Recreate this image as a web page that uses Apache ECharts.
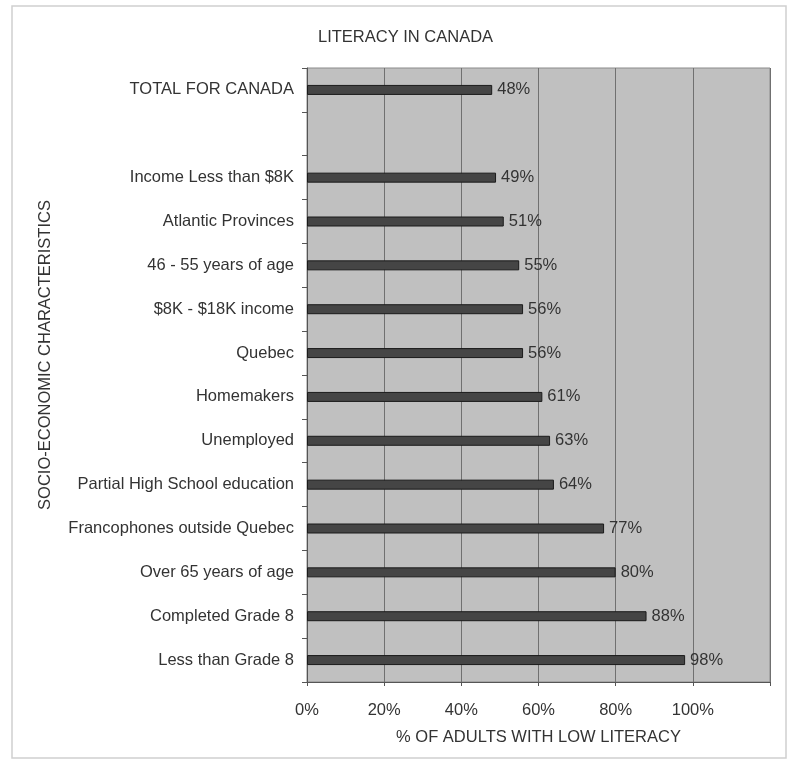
<!DOCTYPE html>
<html lang="en">
<head>
    <meta charset="UTF-8">
    <title>Literacy in Canada</title>
    <style>
        *{
            padding:0;
            margin:0;
        }
        html, body{
            height:100%;
            width:100%;
            background:#fff;
        }
        #main{
            width:794px;
            height:776px;
        }
    </style>
    <script src="https://cdn.jsdelivr.net/npm/echarts@6/dist/echarts.min.js"></script>
</head>
<body>
<div id="main"></div>
<script>
    // rows top to bottom, the empty one is the gap under the total
    var categories = [
        'TOTAL FOR CANADA',
        '',
        'Income Less than $8K',
        'Atlantic Provinces',
        '46 - 55 years of age',
        '$8K - $18K income',
        'Quebec',
        'Homemakers',
        'Unemployed',
        'Partial High School education',
        'Francophones outside Quebec',
        'Over 65 years of age',
        'Completed Grade 8',
        'Less than Grade 8'
    ];
    var lowLiteracy = [48, null, 49, 51, 55, 56, 56, 61, 63, 64, 77, 80, 88, 98];
    var xTicks = [0, 20, 40, 60, 80, 100, 120];

    // the scan is stretched sideways, so text runs a bit large
    var font = 'Liberation Sans, Arial, sans-serif';
    var fs = 16.5;
    var ink = '#333';
    var myChart = echarts.init(document.getElementById('main'));

    var option = {
        backgroundColor: '#fff',
        animation: false,
        textStyle: { fontFamily: font },
        graphic: [{
            type: 'rect',
            shape: { x: 12, y: 6, width: 774, height: 752 },
            style: { fill: 'none', stroke: '#d0d0d0', lineWidth: 1.5 },
            silent: true
        }],
        title: {
            text: 'LITERACY IN CANADA',
            left: 313,
            top: 24,
            textStyle: { color: ink, fontSize: fs, fontWeight: 'normal', fontFamily: font }
        },
        grid: {
            left: 307,
            right: 24,
            top: 68,
            bottom: 94,
            show: true,
            backgroundColor: '#c0c0c0',
            borderColor: '#8a8a8a',
            borderWidth: 1
        },
        xAxis: {
            type: 'value',
            min: xTicks[0],
            max: xTicks[xTicks.length - 1],
            interval: 20,
            name: '% OF ADULTS WITH LOW LITERACY',
            nameLocation: 'middle',
            nameGap: 47,
            nameTextStyle: { color: ink, fontSize: fs, fontFamily: font },
            axisLine: { show: true, lineStyle: { color: '#555' } },
            axisTick: { show: true, length: 4, lineStyle: { color: '#555' } },
            axisLabel: {
                color: ink,
                fontSize: fs,
                margin: 20,
                formatter: function (v) { return v > 100 ? '' : v + '%'; }
            },
            splitLine: { show: true, lineStyle: { color: '#707070', width: 1 } }
        },
        yAxis: {
            type: 'category',
            inverse: true,
            data: categories,
            name: 'SOCIO-ECONOMIC CHARACTERISTICS',
            nameLocation: 'middle',
            nameRotate: 90,
            nameGap: 253,
            nameTextStyle: { color: ink, fontSize: fs, fontFamily: font, padding: [0, 0, 0, 40] },
            axisLine: { show: true, lineStyle: { color: '#555' } },
            axisTick: { show: true, length: 5, lineStyle: { color: '#555' } },
            axisLabel: { color: ink, fontSize: fs, margin: 13 },
            splitLine: { show: false }
        },
        series: [{
            name: 'Low literacy',
            type: 'bar',
            data: lowLiteracy,
            barWidth: 10,
            itemStyle: {
                color: '#454545',
                borderColor: '#1a1a1a',
                borderWidth: 1
            },
            label: {
                show: true,
                position: 'right',
                distance: 5,
                color: ink,
                fontSize: fs,
                fontFamily: font,
                formatter: function (p) { return p.value == null ? '' : p.value + '%'; }
            }
        }]
    };
    myChart.setOption(option);
</script>
</body>
</html>
